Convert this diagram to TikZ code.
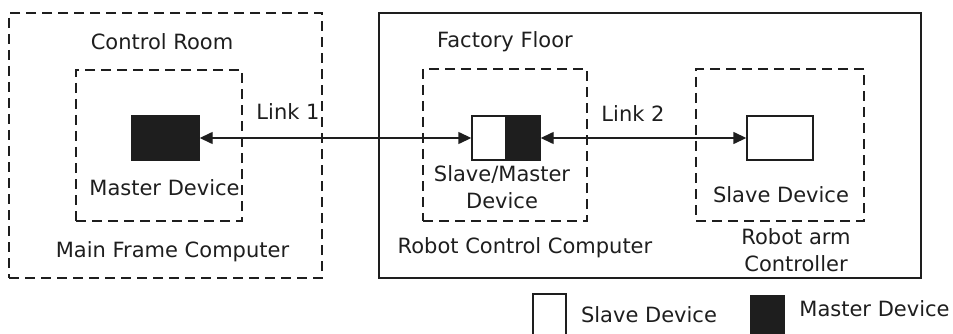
\documentclass[tikz,border=0pt]{standalone}
\usepackage{fontspec}
\setmainfont{DejaVu Sans}
\usetikzlibrary{arrows.meta}
\definecolor{ink}{HTML}{1E1E1E}
\tikzset{
  every node/.style={font=\fontsize{21}{27}\selectfont, text=ink, inner sep=0pt},
  outerdash/.style={draw=ink, line width=1.6pt, dash pattern=on 10pt off 6pt},
  innerdash/.style={draw=ink, line width=1.3pt, dash pattern=on 10pt off 6pt},
  solidbox/.style={draw=ink, line width=1.5pt},
  devbox/.style={draw=ink, line width=1.4pt},
  slavefill/.style={devbox, fill=white},
  masterfill/.style={devbox, fill=ink},
  link/.style={draw=ink, line width=1.4pt, {Triangle[length=13pt,width=12pt]}-{Triangle[length=13pt,width=12pt]}},
}
\begin{document}
\begin{tikzpicture}[x=1pt,y=-1pt]
\useasboundingbox (0,0) rectangle (953,334);
\clip (0,0) rectangle (953,334);
% containers
\node[outerdash, minimum width=313pt, minimum height=265pt] (ctrlroom) at (165.5,145.5) {};
\node[solidbox, minimum width=542pt, minimum height=265pt] (factory) at (650,145.5) {};
\node[innerdash, minimum width=166pt, minimum height=151pt] (mainframe) at (159,145.5) {};
\node[innerdash, minimum width=164pt, minimum height=152pt] (robotcc) at (505,145) {};
\node[innerdash, minimum width=168pt, minimum height=152pt] (armctl) at (780,145) {};
% devices
\node[masterfill, minimum width=67pt, minimum height=44pt] (master) at (165.5,138) {};
\node[slavefill, minimum width=34pt, minimum height=44pt] (smslave) at (489,138) {};
\node[masterfill, minimum width=34pt, minimum height=44pt] (smmaster) at (523,138) {};
\node[slavefill, minimum width=66pt, minimum height=44pt] (slave) at (780,138) {};
% links
\draw[link] (master.east) -- (smslave.west);
\draw[link] (smmaster.east) -- (slave.west);
% labels
\node (lctrl) at (162,42) {Control Room};
\node (llink1) at (288,112) {Link 1};
\node (lmaster) at (164.5,188) {Master Device};
\node (lmain) at (172.5,252) {Main Frame Computer};
\node (lfact) at (505,42) {Factory Floor};
\node (llink2) at (633,114) {Link 2};
\node[align=center] (lsm) at (502,187) {Slave/Master\\Device};
\node (lrcc) at (525,248) {Robot Control Computer};
\node (lslave) at (781,195) {Slave Device};
\node[align=center] (larm) at (796,250) {Robot arm\\Controller};
% legend
\node[slavefill, minimum width=33pt, minimum height=46pt] (legslave) at (549.5,317) {};
\node (leglslave) at (649,315) {Slave Device};
\node[masterfill, minimum width=33pt, minimum height=46pt] (legmaster) at (767.5,319) {};
\node (leglmaster) at (874.5,309) {Master Device};
\end{tikzpicture}
\end{document}
